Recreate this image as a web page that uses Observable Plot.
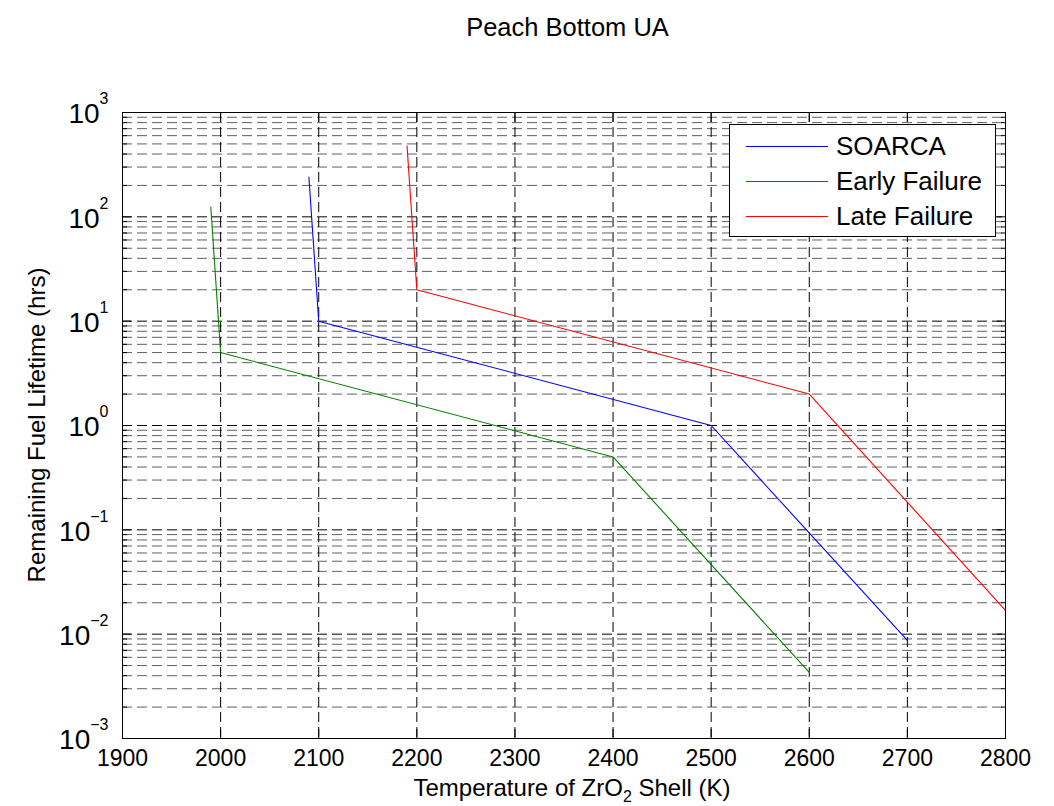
<!DOCTYPE html>
<html>
<head>
<meta charset="utf-8">
<script src="https://cdn.jsdelivr.net/npm/d3@7"></script>
<script src="https://cdn.jsdelivr.net/npm/@observablehq/plot@0.6"></script>
<style>
  body { margin: 0; background: #fff; font-family: "Liberation Sans", Arial, Helvetica, sans-serif; }
  #wrap { position: relative; width: 1054px; height: 806px; }
  #title { height: 56px; line-height: 54px; padding-left: 130px; padding-right: 49px; text-align: center; font-size: 25.5px; color: #000; }
  #legend { position: absolute; left: 729px; top: 124px; width: 265px; height: 111px; border: 1px solid #000; background: #fff; }
  .row { position: absolute; left: 0; height: 30px; width: 100%; }
  .row .swatch { position: absolute; left: 16px; width: 82px; top: 15px; height: 0; border-top: 1px solid; }
  .row .name { position: absolute; left: 106px; top: 0; line-height: 30px; font-size: 26px; color: #000; white-space: nowrap; }
</style>
</head>
<body>
<div id="wrap">
  <div id="title">Peach Bottom UA</div>
  <div id="chart"></div>
  <div id="legend"></div>
</div>
<script>
// Remaining fuel lifetime (hrs) versus ZrO2 shell temperature (K), three cases
const seriesNames = ["SOARCA", "Early Failure", "Late Failure"];
const seriesColors = ["#0000ff", "#008000", "#ff0000"];

const soarcaTemp = [2090, 2100, 2500, 2700];
const soarcaLife = [240, 10, 1, 0.0087];

const earlyTemp = [1990, 2000, 2400, 2600];
const earlyLife = [124, 5, 0.5, 0.0043];

const lateTemp = [2190, 2200, 2600, 2800];
const lateLife = [480, 20, 2, 0.0169];

// Axis ticks
const xTicks = [1900, 2000, 2100, 2200, 2300, 2400, 2500, 2600, 2700, 2800];
const yExponents = [-3, -2, -1, 0, 1, 2, 3];
const yMantissas = [2, 3, 4, 5, 6, 7, 8, 9];

const yMajor = yExponents.map(e => Math.pow(10, e));
const yMinor = yExponents.slice(0, -1).flatMap(e => yMantissas.map(m => m * Math.pow(10, e)));

const rows = [
  ...soarcaTemp.map((t, i) => ({series: seriesNames[0], temp: t, life: soarcaLife[i]})),
  ...earlyTemp.map((t, i) => ({series: seriesNames[1], temp: t, life: earlyLife[i]})),
  ...lateTemp.map((t, i) => ({series: seriesNames[2], temp: t, life: lateLife[i]}))
];

const dash = "10,5";
const blank = () => "";

const chart = Plot.plot({
  width: 1054,
  height: 750,
  marginTop: 56,
  marginBottom: 68,
  marginLeft: 122,
  marginRight: 49,
  style: {fontFamily: '"Liberation Sans", Arial, Helvetica, sans-serif', fontSize: "23px", background: "#fff", color: "#000", overflow: "visible"},
  x: {domain: [1900, 2800]},
  y: {type: "log", domain: [1e-3, 1e3]},
  color: {domain: seriesNames, range: seriesColors},
  marks: [
    // grid
    Plot.ruleY(yMinor, {stroke: "#606060", strokeDasharray: dash, strokeWidth: 1}),
    Plot.ruleY(yMajor, {stroke: "#000", strokeDasharray: dash, strokeWidth: 1}),
    Plot.ruleX(xTicks, {stroke: "#000", strokeDasharray: dash, strokeWidth: 1}),
    // curves
    Plot.line(rows, {x: "temp", y: "life", z: "series", stroke: "series", strokeWidth: 1.1}),
    Plot.frame({stroke: "#000", strokeWidth: 1}),
    // tick labels
    Plot.axisX(xTicks, {anchor: "bottom", tickSize: 0, tickPadding: 11, label: null, fontSize: 23,
      tickFormat: d => String(d)}),
    Plot.axisY(yMajor, {anchor: "left", tickSize: 0, tickPadding: 14, label: null, fontSize: 28,
      tickFormat: d => String(Math.round(Math.log10(d)))}),
    // inward ticks
    Plot.axisX(xTicks, {anchor: "bottom", tickSize: -9, tickFormat: blank, label: null}),
    Plot.axisX(xTicks, {anchor: "top", tickSize: -9, tickFormat: blank, label: null}),
    Plot.axisY(yMajor, {anchor: "left", tickSize: -9, tickFormat: blank, label: null}),
    Plot.axisY(yMajor, {anchor: "right", tickSize: -9, tickFormat: blank, label: null}),
    Plot.axisY(yMinor, {anchor: "left", tickSize: -5, tickFormat: blank, label: null}),
    Plot.axisY(yMinor, {anchor: "right", tickSize: -5, tickFormat: blank, label: null})
  ]
});

document.getElementById("chart").appendChild(chart);

const svg = d3.select(chart);

// Powers of ten on the y axis: "10" with a raised exponent
svg.selectAll('g[aria-label="y-axis tick label"] text').each(function() {
  const t = d3.select(this);
  const exp = t.text();
  if (exp === "") return;
  t.text("");
  t.attr("dy", "2");
  t.append("tspan").text("10");
  t.append("tspan").attr("dy", "-19").attr("font-size", "16px").text(exp.replace("-", "\u2212"));
});

// Axis titles
const fh = 750 - 56 - 68;
svg.append("text")
  .attr("x", 572).attr("y", 56 + fh + 58)
  .attr("text-anchor", "middle").attr("font-size", "24px").attr("fill", "#000")
  .call(t => {
    t.append("tspan").text("Temperature of ZrO");
    t.append("tspan").attr("dy", "6").attr("font-size", "16px").text("2");
    t.append("tspan").attr("dy", "-6").text(" Shell (K)");
  });
svg.append("text")
  .attr("transform", `translate(37,${56 + fh / 2}) rotate(-90)`)
  .attr("text-anchor", "middle").attr("dy", "0.35em").attr("font-size", "24px").attr("fill", "#000")
  .text("Remaining Fuel Lifetime (hrs)");

// Legend
const legend = document.getElementById("legend");
seriesNames.forEach((name, i) => {
  const row = document.createElement("div");
  row.className = "row";
  row.style.top = (6 + i * 35) + "px";
  const sw = document.createElement("div");
  sw.className = "swatch";
  sw.style.borderColor = seriesColors[i];
  const label = document.createElement("div");
  label.className = "name";
  label.textContent = name;
  row.appendChild(sw);
  row.appendChild(label);
  legend.appendChild(row);
});
</script>
</body>
</html>
